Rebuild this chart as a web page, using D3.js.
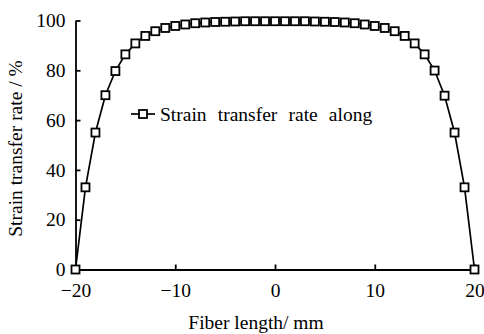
<!DOCTYPE html>
<html><head><meta charset="utf-8">
<script src="https://cdn.jsdelivr.net/npm/d3@7"></script>
<style>html,body{margin:0;padding:0;background:#fff;}svg{display:block;font-family:"Liberation Serif","Times New Roman",serif;}</style>
</head><body><svg id="c" width="484" height="334"></svg>
<script>
const fiberLength = [-20,-19,-18,-17,-16,-15,-14,-13,-12,-11,-10,-9,-8,-7,-6,-5,-4,-3,-2,-1,0,1,2,3,4,5,6,7,8,9,10,11,12,13,14,15,16,17,18,19,20];
const strainRate = [0,33,55,70,79.7,86.4,90.8,93.8,95.7,97.0,97.8,98.4,98.9,99.2,99.4,99.5,99.6,99.7,99.7,99.7,99.7,99.7,99.7,99.7,99.6,99.5,99.4,99.2,98.9,98.4,97.8,97.0,95.7,93.8,90.8,86.4,79.9,69.8,55,33,0];
const xTicks = [-20,-10,0,10,20];
const yTicks = [0,20,40,60,80,100];
const seriesName = "Strain transfer rate along";
const xTitle = "Fiber length/ mm";
const yTitle = "Strain transfer rate / %";

const FS = 19.5;
const svg = d3.select("#c");
const x = d3.scaleLinear().domain([-20,20]).range([75.5,474.5]);
const y = d3.scaleLinear().domain([0,100]).range([269.5,20.5]);

const xAxis = svg.append("g").attr("transform","translate(0,269.5)")
  .call(d3.axisBottom(x).tickValues(xTicks).tickSizeInner(-5).tickSizeOuter(0).tickPadding(13.5).tickFormat(d=>d<0?"\u2212"+Math.abs(d):d));
const yAxis = svg.append("g").attr("transform","translate(75.5,0)")
  .call(d3.axisLeft(y).tickValues(yTicks).tickSizeInner(-5).tickSizeOuter(0).tickPadding(10));
[xAxis,yAxis].forEach(g=>{
  g.select(".domain").attr("stroke","#000").attr("stroke-width",1.8);
  g.selectAll(".tick line").attr("stroke","#000").attr("stroke-width",1.8);
  g.selectAll("text").attr("font-family","Liberation Serif").attr("font-size",FS).attr("fill","#000");
});
const line = d3.line().x((d,i)=>x(fiberLength[i])).y(d=>y(d));
svg.append("path").datum(strainRate).attr("d",line).attr("fill","none").attr("stroke","#000").attr("stroke-width",1.7);
svg.selectAll("rect.m").data(strainRate).join("rect").attr("class","m")
  .attr("x",(d,i)=>x(fiberLength[i])-4).attr("y",d=>y(d)-4).attr("width",8).attr("height",8)
  .attr("fill","#fff").attr("stroke","#000").attr("stroke-width",1.8);

// legend
const lg = svg.append("g");
lg.append("line").attr("x1",131).attr("x2",155).attr("y1",114).attr("y2",114).attr("stroke","#000").attr("stroke-width",1.7);
lg.append("rect").attr("x",139).attr("y",110).attr("width",8).attr("height",8).attr("fill","#fff").attr("stroke","#000").attr("stroke-width",1.8);
lg.append("text").attr("x",160).attr("y",121).attr("font-size",FS).attr("word-spacing",6.3).text(seriesName);

svg.append("text").attr("x",256).attr("y",329).attr("text-anchor","middle").attr("font-size",FS).text(xTitle);
svg.append("text").attr("transform","translate(22,148.5) rotate(-90)").attr("text-anchor","middle").attr("font-size",FS).text(yTitle);
</script></body></html>
